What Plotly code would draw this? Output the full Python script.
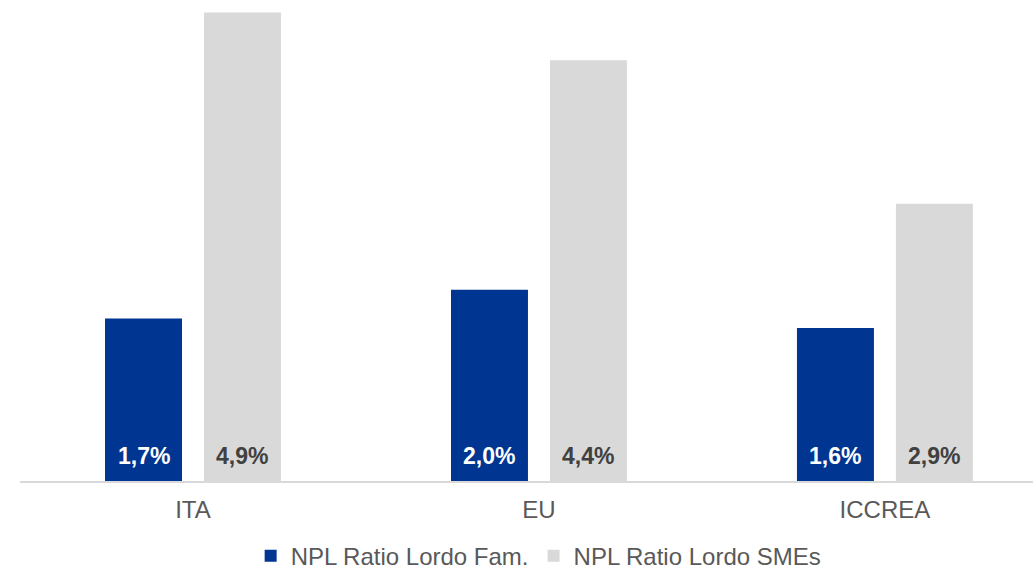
import plotly.graph_objects as go

categories = ["ITA", "EU", "ICCREA"]
fam_values = [1.7, 2.0, 1.6]
sme_values = [4.9, 4.4, 2.9]
series_names = ["NPL Ratio Lordo Fam.", "NPL Ratio Lordo SMEs"]

def fmt(v):
    return f"{v:.1f}%".replace(".", ",")

bargap = 0.428
bargroupgap = 0.222

fig = go.Figure()
fig.add_trace(go.Bar(
    x=categories, y=fam_values, name=series_names[0],
    marker=dict(color="#003591", line=dict(width=0)),
    hoverinfo="skip",
))
fig.add_trace(go.Bar(
    x=categories, y=sme_values, name=series_names[1],
    marker=dict(color="#d9d9d9", line=dict(width=0)),
    hoverinfo="skip",
))

# value labels near the bottom of each bar (offset derived from the group layout)
slot = (1 - bargap) / 2
for series, color, sign in [(fam_values, "white", -1), (sme_values, "#404040", 1)]:
    for i, v in enumerate(series):
        fig.add_annotation(
            x=i + sign * slot / 2, y=0, xref="x", yref="y",
            text=f"<b>{fmt(v)}</b>", showarrow=False,
            yanchor="middle", yshift=25,
            font=dict(family="Liberation Sans, Arial", size=23, color=color),
        )

fig.update_layout(
    width=1033, height=571,
    margin=dict(l=20, r=0, t=3, b=90, autoexpand=False),
    paper_bgcolor="white", plot_bgcolor="white",
    barmode="group", bargap=bargap, bargroupgap=bargroupgap,
    font=dict(family="Liberation Sans, Arial", size=24, color="#595959"),
    showlegend=True,
    legend=dict(orientation="h", x=0.512, xanchor="center", y=-0.157, yanchor="middle",
                font=dict(size=24, color="#595959"), itemclick=False),
)
fig.update_xaxes(range=[-0.5, 2.428], showline=True, linecolor="#d9d9d9", linewidth=2,
                 ticks="", showgrid=False, ticklabelstandoff=6,
                 tickfont=dict(size=24, color="#595959"))
fig.update_yaxes(range=[0, 5], showgrid=False, zeroline=False, showticklabels=False, showline=False)

fig.write_html("out.html", config={"displayModeBar": False},
               post_script="document.body.style.margin='0';")
